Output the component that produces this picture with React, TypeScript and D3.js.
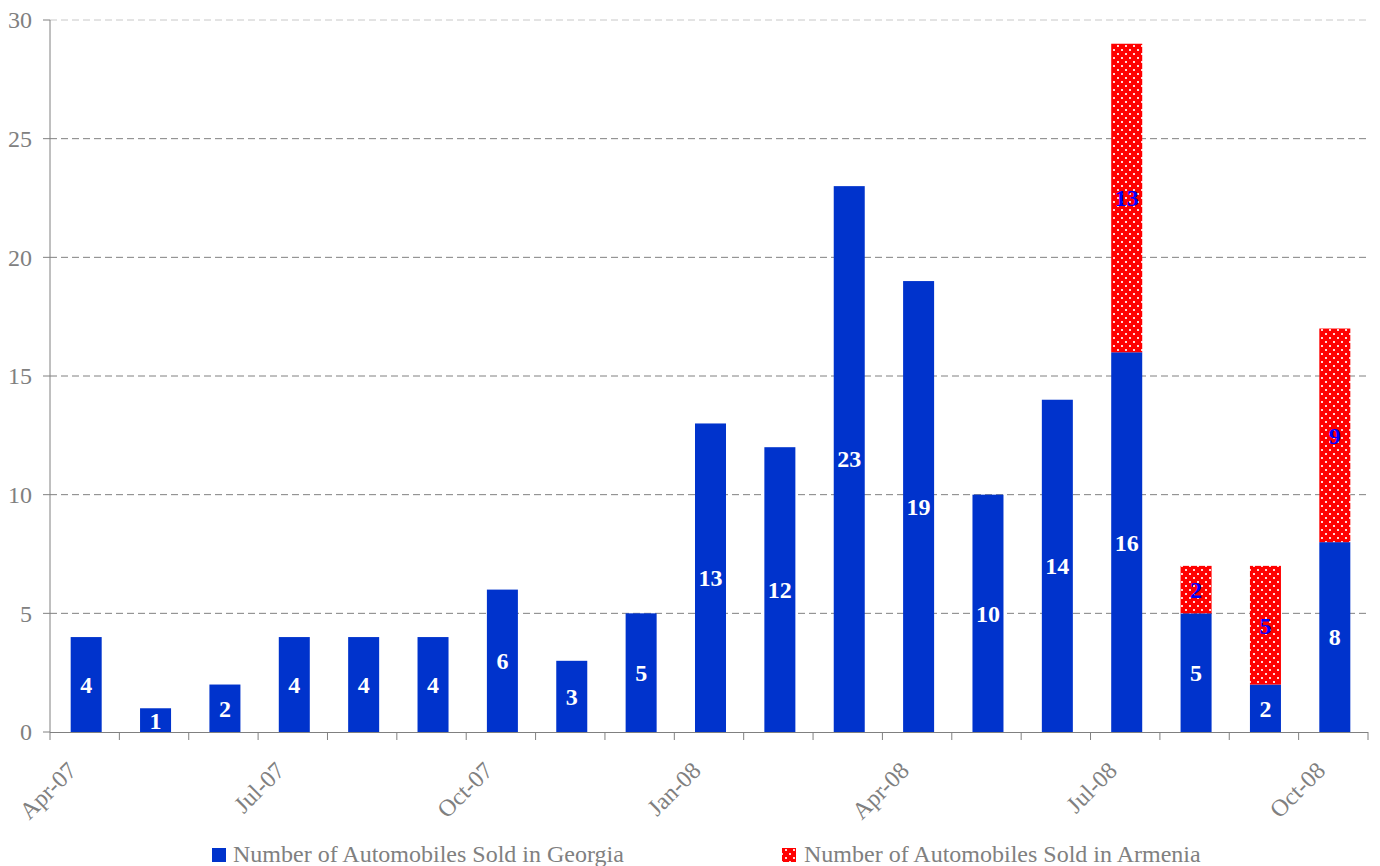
import React from "react";
import * as d3 from "d3";

const months = [
  "Apr-07", "May-07", "Jun-07", "Jul-07", "Aug-07", "Sep-07", "Oct-07", "Nov-07", "Dec-07",
  "Jan-08", "Feb-08", "Mar-08", "Apr-08", "May-08", "Jun-08", "Jul-08", "Aug-08", "Sep-08", "Oct-08",
];
const georgia = [4, 1, 2, 4, 4, 4, 6, 3, 5, 13, 12, 23, 19, 10, 14, 16, 5, 2, 8];
const armenia = [0, 0, 0, 0, 0, 0, 0, 0, 0, 0, 0, 0, 0, 0, 0, 13, 2, 5, 9];
const labeledMonths = ["Apr-07", "Jul-07", "Oct-07", "Jan-08", "Apr-08", "Jul-08", "Oct-08"];
const yTicks = [0, 5, 10, 15, 20, 25, 30];
const seriesNames = ["Number of Automobiles Sold in Georgia", "Number of Automobiles Sold in Armenia"];

const W = 1380;
const H = 866;
const FONT = "'Liberation Serif', 'Times New Roman', serif";
const BLUE = "#0033CC";
const RED = "#FF0000";
const GRAY = "#808080";

export default function App() {
  // axis band scale (tick boundaries)
  const xAxis = d3.scaleBand<string>().domain(months).range([50, 1368]).padding(0);
  // bar band scale
  const x = d3.scaleBand<string>().domain(months).range([51.5, 1369.5]).paddingInner(0.553).paddingOuter(0.2765);
  const y = d3.scaleLinear().domain([0, 30]).range([732, 20]);
  const boundaries = months.map((m) => xAxis(m) as number).concat([1368]);

  return (
    <svg width={W} height={H} style={{ position: "absolute", left: 0, top: 0, background: "#fff" }} fontFamily={FONT}>
      <defs>
        <pattern id="dots" width={8} height={8} patternUnits="userSpaceOnUse">
          <rect width={8} height={8} fill={RED} />
          <rect x={1} y={1} width={2} height={2} fill="#ffd6d6" />
          <rect x={5} y={5} width={2} height={2} fill="#ffd6d6" />
        </pattern>
      </defs>

      {/* gridlines */}
      {yTicks.filter((t) => t > 0).map((t) => (
        <line key={"g" + t} x1={50} x2={1368} y1={y(t)} y2={y(t)} stroke={t === 30 ? "#c8c8c8" : GRAY} strokeWidth={1} strokeDasharray="7,4" />
      ))}

      {/* bars */}
      {months.map((m, i) => {
        const bx = x(m) as number;
        const bw = x.bandwidth();
        const g = georgia[i];
        const a = armenia[i];
        return (
          <g key={m}>
            <rect x={bx} y={y(g)} width={bw} height={y(0) - y(g)} fill={BLUE} />
            {a > 0 && <rect x={bx} y={y(g + a)} width={bw} height={y(g) - y(g + a)} fill="url(#dots)" />}
          </g>
        );
      })}

      {/* axes */}
      <line x1={50} x2={50} y1={20} y2={732} stroke={GRAY} />
      <line x1={50} x2={1368} y1={732.5} y2={732.5} stroke={GRAY} />
      {yTicks.map((t) => (
        <g key={"yt" + t}>
          <line x1={43} x2={50} y1={y(t)} y2={y(t)} stroke={GRAY} />
          <text x={32} y={y(t)} dy="0.35em" textAnchor="end" fontSize={24} fill={GRAY}>{t}</text>
        </g>
      ))}
      {boundaries.map((b, i) => (
        <line key={"xt" + i} x1={b} x2={b} y1={732} y2={740} stroke={GRAY} />
      ))}
      {labeledMonths.map((m) => {
        const b = xAxis(m) as number;
        return (
          <text key={"xl" + m} transform={`translate(${b + 28},${772}) rotate(-45)`} textAnchor="end" fontSize={24} fill={GRAY}>{m}</text>
        );
      })}

      {/* value labels */}
      {months.map((m, i) => {
        const cx = (x(m) as number) + x.bandwidth() / 2;
        const g = georgia[i];
        const a = armenia[i];
        return (
          <g key={"lb" + m}>
            <text x={cx} y={y(g / 2)} dy="0.35em" textAnchor="middle" fontSize={24} fontWeight="bold" fill="#ffffff">{g}</text>
            {a > 0 && (
              <text x={cx} y={y(g + a / 2)} dy="0.35em" textAnchor="middle" fontSize={24} fontWeight="bold" fill="#0000FF">{a}</text>
            )}
          </g>
        );
      })}

      {/* legend */}
      <rect x={212} y={848} width={14} height={14} fill={BLUE} />
      <text x={233} y={862} fontSize={24} fill={GRAY}>{seriesNames[0]}</text>
      <rect x={782} y={848} width={14} height={14} fill="url(#dots)" />
      <text x={804} y={862} fontSize={24} fill={GRAY}>{seriesNames[1]}</text>
    </svg>
  );
}
